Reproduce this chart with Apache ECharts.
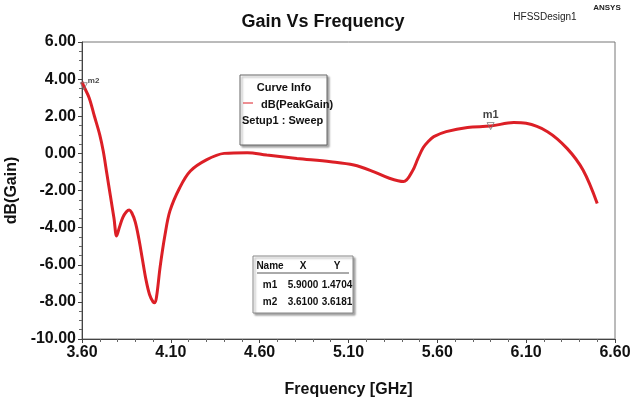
<!DOCTYPE html>
<html>
<head>
<meta charset="utf-8">
<script src="https://cdn.jsdelivr.net/npm/echarts@6/dist/echarts.min.js"></script>
<style>
  html, body { margin: 0; padding: 0; background: #fff; }
  #chart { width: 631px; height: 399px; }
</style>
</head>
<body>
<div id="chart"></div>
<script>
// Swept peak gain of the antenna (dB) against frequency (GHz)
const freqGHz = [3.60, 3.61, 3.64, 3.67, 3.70, 3.72, 3.74, 3.76, 3.78, 3.795, 3.81, 3.83, 3.85, 3.866, 3.88,
  3.90, 3.92, 3.94, 3.96, 3.98, 4.00, 4.01, 4.02, 4.04, 4.067, 4.095, 4.15, 4.21, 4.30, 4.40, 4.53, 4.64,
  4.81, 5.00, 5.13, 5.24, 5.33, 5.41, 5.46, 5.49, 5.52, 5.55, 5.58, 5.65, 5.77, 5.90, 6.03, 6.10, 6.22, 6.33, 6.42, 6.50];
const peakGainDb = [3.85, 3.62, 3.0, 2.0, 1.0, 0.1, -1.1, -2.3, -3.5, -4.45, -4.0, -3.45, -3.15, -3.05, -3.2,
  -3.7, -4.6, -5.7, -6.8, -7.6, -8.0, -8.05, -7.7, -6.1, -4.4, -3.1, -1.85, -0.95, -0.35, 0.0, 0.04, -0.09,
  -0.27, -0.45, -0.63, -0.98, -1.34, -1.52, -0.95, -0.3, 0.3, 0.65, 0.9, 1.17, 1.4, 1.47, 1.66, 1.62, 1.17, 0.27, -0.9, -2.7];

// Markers placed on the trace
const markerNames = ['m1', 'm2'];
const markerX = [5.9000, 3.6100];
const markerY = [1.4704, 3.6181];

// Axis ranges / tick steps
const xTicks = { min: 3.6, max: 6.6, step: 0.5 };
const yTicks = { min: -10, max: 6, step: 2 };

const FONT = '"Liberation Sans", Arial, sans-serif';
const RED = '#dc1f26';

const chart = echarts.init(document.getElementById('chart'), null, { renderer: 'canvas' });

const curve = freqGHz.map((f, i) => [f, peakGainDb[i]]);
// m1 is labelled above its marker; m2 sits on the left edge, so its small label goes to the right
const markerLabels = [
  { position: 'top', distance: 2, fontSize: 11 },
  { position: 'right', distance: 0, fontSize: 8, offset: [0, -5] }
];
const markers = markerNames.map((n, i) => ({ name: n, value: [markerX[i], markerY[i]], label: markerLabels[i] }));

// Marker table rows
const tableLeft = 253, tableTop = 256, tableW = 100, tableH = 57;
const colX = [270, 303, 337];
const rowY = [266, 285, 302];
const tableChildren = [
  { type: 'rect', shape: { x: tableLeft, y: tableTop, width: tableW, height: tableH },
    style: { fill: '#fff', stroke: '#888', lineWidth: 1, shadowBlur: 2, shadowOffsetX: 2, shadowOffsetY: 2, shadowColor: 'rgba(0,0,0,0.35)' } },
  { type: 'line', shape: { x1: tableLeft + 4, y1: 273, x2: tableLeft + tableW - 4, y2: 273 }, style: { stroke: '#555', lineWidth: 1 } }
];
['Name', 'X', 'Y'].forEach((h, j) => {
  tableChildren.push({ type: 'text', style: { text: h, x: colX[j], y: rowY[0], align: 'center', verticalAlign: 'middle',
    font: 'bold 10px ' + FONT, fill: '#111' } });
});
markerNames.forEach((n, i) => {
  const cells = [n, markerX[i].toFixed(4), markerY[i].toFixed(4)];
  cells.forEach((c, j) => {
    tableChildren.push({ type: 'text', style: { text: c, x: colX[j], y: rowY[i + 1], align: 'center', verticalAlign: 'middle',
      font: 'bold 10px ' + FONT, fill: '#111' } });
  });
});

const option = {
  backgroundColor: '#fff',
  animation: false,
  grid: { left: 82, top: 42, right: 16, bottom: 60, outerBoundsMode: 'none', containLabel: false,
    show: true, borderColor: '#777', borderWidth: 1, backgroundColor: '#fff' },
  title: {
    text: 'Gain Vs Frequency', left: 318, top: 8, textAlign: 'center',
    textStyle: { fontFamily: FONT, fontWeight: 'bold', fontSize: 18, color: '#111' }
  },
  xAxis: {
    type: 'value', min: xTicks.min, max: xTicks.max, interval: xTicks.step,
    name: 'Frequency [GHz]', nameLocation: 'middle', nameGap: 43,
    nameTextStyle: { fontFamily: FONT, fontWeight: 'bold', fontSize: 16, color: '#111' },
    axisLine: { show: true, onZero: false, lineStyle: { color: '#444', width: 1 } },
    axisTick: { show: true, length: 4, lineStyle: { color: '#444' } },
    minorTick: { show: true, splitNumber: 5, length: 3, lineStyle: { color: '#666' } },
    splitLine: { show: false },
    axisLabel: { formatter: v => v.toFixed(2), fontFamily: FONT, fontWeight: 'bold', fontSize: 16, color: '#111', margin: 6 }
  },
  yAxis: {
    type: 'value', min: yTicks.min, max: yTicks.max, interval: yTicks.step,
    name: 'dB(Gain)', nameLocation: 'middle', nameGap: 60, nameRotate: 90,
    nameTextStyle: { fontFamily: FONT, fontWeight: 'bold', fontSize: 16, color: '#111' },
    axisLine: { show: true, onZero: false, lineStyle: { color: '#444', width: 1 } },
    axisTick: { show: true, length: 4, lineStyle: { color: '#444' } },
    minorTick: { show: true, splitNumber: 4, length: 3, lineStyle: { color: '#666' } },
    splitLine: { show: false },
    axisLabel: { formatter: v => v.toFixed(2), fontFamily: FONT, fontWeight: 'bold', fontSize: 16, color: '#111', margin: 6 }
  },
  series: [
    {
      name: 'dB(PeakGain)', type: 'line', data: curve, showSymbol: false, smooth: 0.35,
      lineStyle: { color: RED, width: 3 }, z: 3
    },
    {
      name: 'markers', type: 'scatter', data: markers, symbol: 'triangle', symbolRotate: 180, symbolSize: 7,
      itemStyle: { color: 'rgba(255,255,255,0)', borderColor: '#777', borderWidth: 1 }, z: 4,
      label: {
        show: true, position: 'top', distance: 2, formatter: p => p.name,
        fontFamily: FONT, fontWeight: 'bold', fontSize: 11, color: '#111'
      }
    }
  ],
  graphic: [
    { type: 'text', style: { text: 'HFSSDesign1', x: 545, y: 17, align: 'center', verticalAlign: 'middle', font: '10px ' + FONT, fill: '#222' } },
    { type: 'text', style: { text: 'ANSYS', x: 607, y: 8, align: 'center', verticalAlign: 'middle', font: 'bold 8px ' + FONT, fill: '#222' } },
    {
      type: 'group', children: [
        { type: 'rect', shape: { x: 240, y: 75, width: 87, height: 70 },
          style: { fill: '#fff', stroke: '#666', lineWidth: 1, shadowBlur: 2, shadowOffsetX: 2, shadowOffsetY: 2, shadowColor: 'rgba(0,0,0,0.35)' } },
        { type: 'text', style: { text: 'Curve Info', x: 284, y: 88, align: 'center', verticalAlign: 'middle', font: 'bold 11px ' + FONT, fill: '#111' } },
        { type: 'line', shape: { x1: 243, y1: 103, x2: 253, y2: 103 }, style: { stroke: RED, lineWidth: 1 } },
        { type: 'text', style: { text: 'dB(PeakGain)', x: 261, y: 105, align: 'left', verticalAlign: 'middle', font: 'bold 11px ' + FONT, fill: '#111' } },
        { type: 'text', style: { text: 'Setup1 : Sweep', x: 242, y: 121, align: 'left', verticalAlign: 'middle', font: 'bold 11px ' + FONT, fill: '#111' } }
      ]
    },
    { type: 'group', children: tableChildren }
  ]
};

chart.setOption(option);
</script>
</body>
</html>
